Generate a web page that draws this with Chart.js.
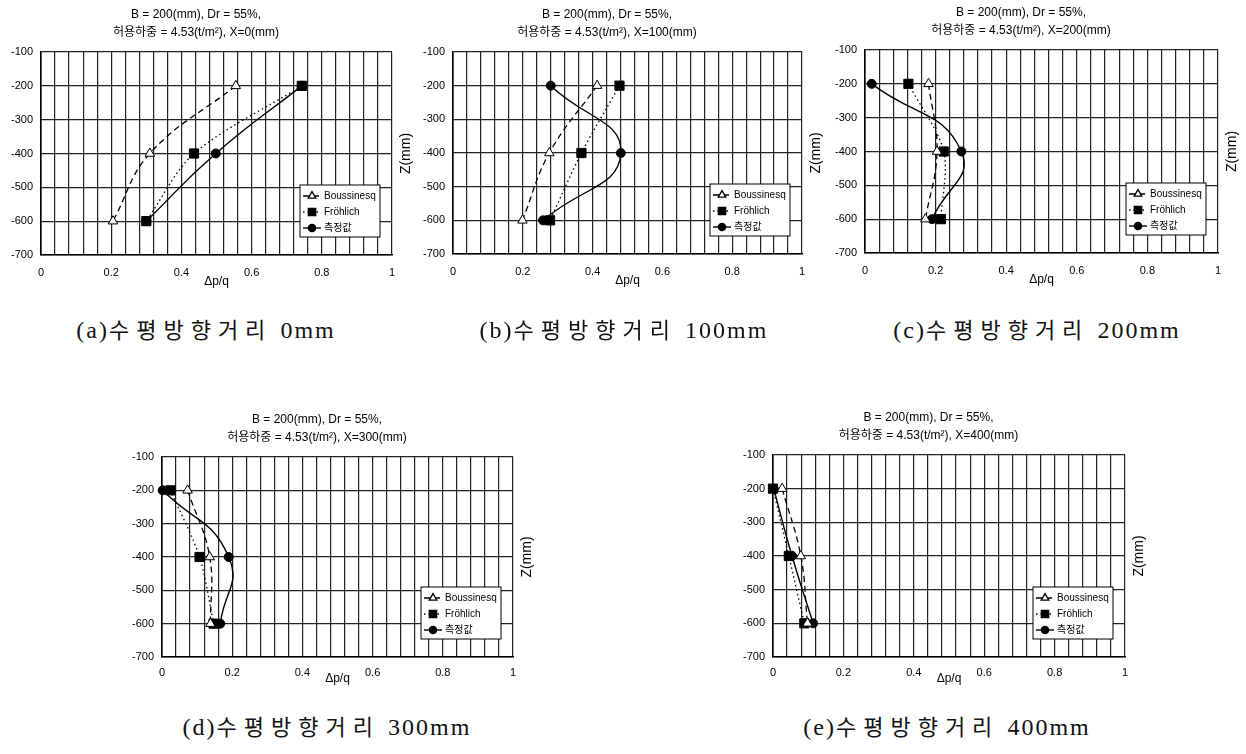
<!DOCTYPE html>
<html>
<head>
<meta charset="utf-8">
<script src="https://cdn.jsdelivr.net/npm/chart.js@4.4.1/dist/chart.umd.min.js"></script>
<style>
  body { margin: 0; background: #fff; width: 1246px; height: 754px; position: relative; overflow: hidden; }
  .panel { position: absolute; }
  .cap { position: absolute; white-space: nowrap; transform: translate(-50%, -50%);
         font-family: 'Liberation Serif', 'Noto Sans CJK KR', serif; font-size: 24px; letter-spacing: 2px; color: #111; }
  .cap .ko { font-family: 'Noto Sans CJK KR', sans-serif; font-size: 22px; letter-spacing: 7px; }
</style>
</head>
<body>
<script>
// horizontal offset of each panel, X (mm)
const offsets = [0, 100, 200, 300, 400];
const panelTags = ['a', 'b', 'c', 'd', 'e'];
// depth Z (mm)
const depths = [-200, -400, -600];
// dp/q at each depth, one row per panel
const boussinesq = [
  [0.555, 0.31, 0.205],
  [0.413, 0.276, 0.199],
  [0.18, 0.204, 0.171],
  [0.073, 0.136, 0.138],
  [0.026, 0.079, 0.098]
];
const frohlich = [
  [0.743, 0.436, 0.30],
  [0.477, 0.368, 0.278],
  [0.123, 0.223, 0.215],
  [0.024, 0.107, 0.147],
  [0.0, 0.045, 0.089]
];
const measured = [
  [0.743, 0.498, 0.30],
  [0.28, 0.481, 0.258],
  [0.019, 0.273, 0.19],
  [0.002, 0.19, 0.166],
  [0.002, 0.054, 0.114]
];
const seriesNames = ['Boussinesq', 'Fröhlich', '측정값'];
const xLabelTicks = [0, 0.2, 0.4, 0.6, 0.8, 1];

// where each panel sits on the page
const boxes = [
  { left: 0,   top: 0,   w: 420, h: 300, padTop: 6, tickGap: 12, capX: 206,  capY: 328 },
  { left: 412, top: 0,   w: 418, h: 299, padTop: 6, tickGap: 12, capX: 624,  capY: 328 },
  { left: 824, top: 0,   w: 422, h: 298, padTop: 4, tickGap: 12, capX: 1037, capY: 328 },
  { left: 121, top: 405, w: 420, h: 297, padTop: 6, tickGap: 10, capX: 327,  capY: 725 },
  { left: 732, top: 400, w: 421, h: 302, padTop: 9, tickGap: 10, capX: 947,  capY: 725 }
];

const FONT = "'Liberation Sans', 'Noto Sans CJK KR', sans-serif";

// Z(mm) on the right, reading upwards, plus the x tick numbers
const axisText = {
  id: 'axisText',
  afterDraw(chart, args, opts) {
    const { ctx, chartArea } = chart;
    const xs = chart.scales.x;
    ctx.save();
    ctx.fillStyle = '#000';
    ctx.font = '11px ' + FONT;
    ctx.textAlign = 'center';
    ctx.textBaseline = 'top';
    xLabelTicks.forEach(v => {
      ctx.fillText(String(v), xs.getPixelForValue(v), chartArea.bottom + opts.gap);
    });
    ctx.translate(chartArea.right + 14, (chartArea.top + chartArea.bottom) / 2);
    ctx.rotate(-Math.PI / 2);
    ctx.font = '14px ' + FONT;
    ctx.textBaseline = 'middle';
    ctx.fillText('Z(mm)', 0, 0);
    ctx.restore();
  }
};

const boxLegend = {
  id: 'boxLegend',
  afterDatasetsDraw(chart) {
    const { ctx, chartArea } = chart;
    const w = 80, h = 52;
    const x0 = chartArea.right - 12 - w;
    const y0 = chartArea.bottom - 18 - h;
    ctx.save();
    ctx.fillStyle = '#fff';
    ctx.fillRect(x0, y0, w, h);
    ctx.strokeStyle = '#000';
    ctx.lineWidth = 1;
    ctx.strokeRect(x0, y0, w, h);
    chart.data.datasets.forEach((ds, i) => {
      const y = y0 + 11 + i * 16;
      ctx.save();
      ctx.strokeStyle = '#000';
      ctx.lineWidth = ds.borderWidth;
      ctx.setLineDash(ds.borderDash || []);
      ctx.beginPath();
      ctx.moveTo(x0 + 3, y);
      ctx.lineTo(x0 + 21, y);
      ctx.stroke();
      ctx.setLineDash([]);
      ctx.fillStyle = ds.pointBackgroundColor;
      ctx.strokeStyle = '#000';
      Chart.helpers.drawPoint(ctx, {
        pointStyle: ds.pointStyle, radius: ds.pointRadius * 0.8, rotation: 0, borderWidth: 1
      }, x0 + 12, y);
      ctx.restore();
      ctx.fillStyle = '#000';
      ctx.font = '10px ' + FONT;
      ctx.textAlign = 'left';
      ctx.textBaseline = 'middle';
      ctx.fillText(ds.label, x0 + 24, y);
    });
    ctx.restore();
  }
};

function points(vals) {
  return depths.map((d, i) => ({ x: vals[i], y: d }));
}

panelTags.forEach((tag, p) => {
  const b = boxes[p];
  const div = document.createElement('div');
  div.className = 'panel';
  div.style.left = b.left + 'px';
  div.style.top = b.top + 'px';
  const canvas = document.createElement('canvas');
  canvas.width = b.w;
  canvas.height = b.h;
  canvas.style.width = b.w + 'px';
  canvas.style.height = b.h + 'px';
  div.appendChild(canvas);
  document.body.appendChild(div);

  const cap = document.createElement('div');
  cap.className = 'cap';
  cap.style.left = b.capX + 'px';
  cap.style.top = b.capY + 'px';
  cap.innerHTML = '(' + tag + ')<span class="ko">수평방향거리</span> ' + offsets[p] + 'mm';
  document.body.appendChild(cap);

  new Chart(canvas, {
    type: 'line',
    data: {
      datasets: [
        {
          label: seriesNames[0], data: points(boussinesq[p]),
          borderColor: '#000', borderWidth: 1.3, borderDash: [6, 4],
          pointStyle: 'triangle', pointRadius: 5.5, pointBackgroundColor: '#fff',
          pointBorderColor: '#000', pointBorderWidth: 1, tension: 0.4
        },
        {
          label: seriesNames[1], data: points(frohlich[p]),
          borderColor: '#000', borderWidth: 1.3, borderDash: [1.5, 3],
          pointStyle: 'rect', pointRadius: 6.5, pointBackgroundColor: '#000',
          pointBorderColor: '#000', pointBorderWidth: 1, tension: 0.3
        },
        {
          label: seriesNames[2], data: points(measured[p]),
          borderColor: '#000', borderWidth: 1.4,
          pointStyle: 'circle', pointRadius: 4.5, pointBackgroundColor: '#000',
          pointBorderColor: '#000', pointBorderWidth: 1, tension: 0.5
        }
      ]
    },
    options: {
      responsive: false,
      animation: false,
      clip: false,
      layout: { padding: { left: 0, right: 28, top: 0, bottom: 0 } },
      plugins: {
        legend: { display: false },
        tooltip: { enabled: false },
        axisText: { gap: b.tickGap },
        title: {
          display: true,
          text: ['B = 200(mm), Dr = 55%,', '허용하중 = 4.53(t/m²), X=' + offsets[p] + '(mm)'],
          color: '#000',
          font: { family: FONT, size: 12, weight: 'normal', lineHeight: 1.5 },
          padding: { top: b.padTop, bottom: 10 }
        }
      },
      scales: {
        x: {
          type: 'linear', min: 0, max: 1,
          afterFit(scale) { scale.height = 45; },
          ticks: { display: false, stepSize: 0.2 },
          grid: { display: false },
          border: { display: true, color: '#000', width: 1.6 },
          title: {
            display: true, text: 'Δp/q', color: '#000',
            font: { family: FONT, size: 12 },
            padding: { top: 0, bottom: p < 3 ? 11 : 16 }
          }
        },
        xMinor: {
          type: 'linear', position: 'bottom', axis: 'x', min: 0, max: 1,
          afterFit(scale) { scale.height = 0; },
          ticks: { display: false, stepSize: 0.04, autoSkip: false },
          grid: { color: '#222', lineWidth: 1.2, drawTicks: false },
          border: { display: false }
        },
        y: {
          type: 'linear', min: -700, max: -100,
          afterFit(scale) { scale.width = 41; },
          ticks: {
            stepSize: 100, padding: 8, color: '#000', font: { family: FONT, size: 11 }
          },
          grid: { color: '#222', lineWidth: 1.2, drawTicks: false },
          border: { color: '#000', width: 1.6 }
        }
      }
    },
    plugins: [axisText, boxLegend]
  });
});
</script>
</body>
</html>
